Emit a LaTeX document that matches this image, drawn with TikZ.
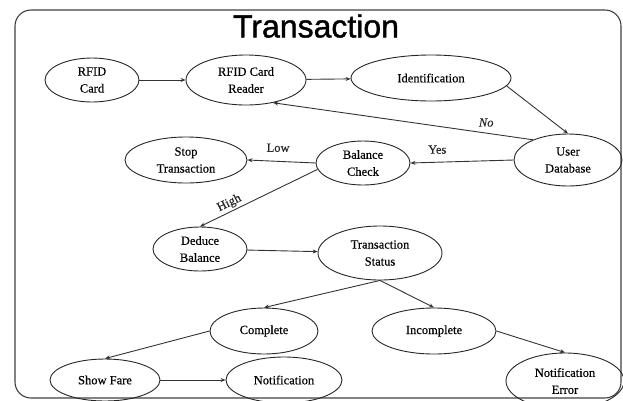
\documentclass[tikz,border=0pt]{standalone}
\usepackage{fontspec}
\setmainfont[FakeBold=0.4]{Liberation Serif}
\newfontfamily\titlefont[FakeBold=1.2]{Liberation Sans}
\usetikzlibrary{shapes.geometric,arrows.meta}
\begin{document}
\begin{tikzpicture}[x=1pt,y=-1pt,
  st/.style={ellipse,draw=black!85,line width=0.9pt,inner sep=0pt,align=center,
    font=\fontsize{12.5}{17}\selectfont},
  conn/.style={draw=black!80,line width=0.9pt,-{Stealth[length=5pt,width=4pt]}},
  lbl/.style={font=\fontsize{12.5}{15}\selectfont,text=black!85,inner sep=1pt}]
\useasboundingbox (0,0) rectangle (623,400);
\draw[black!75,line width=1.1pt,rounded corners=16pt] (15,10) rectangle (621,398);
\node[font=\titlefont\fontsize{32}{36}\selectfont] (title) at (316,26) {Transaction};
\node[st,minimum width=94pt,minimum height=44pt] (card) at (92,80) {RFID\\Card};
\node[st,minimum width=120pt,minimum height=50pt] (reader) at (246,80) {RFID Card\\Reader};
\node[st,minimum width=160pt,minimum height=46pt] (ident) at (431,78) {Identification};
\node[st,minimum width=108pt,minimum height=52pt] (udb) at (568,160) {User\\Database};
\node[st,minimum width=94pt,minimum height=44pt] (bal) at (363,163) {Balance\\Check};
\node[st,minimum width=122pt,minimum height=46pt] (stop) at (186,160) {Stop\\Transaction};
\node[st,minimum width=94pt,minimum height=44pt] (deduce) at (200,249) {Deduce\\Balance};
\node[st,minimum width=124pt,minimum height=54pt] (status) at (380,253) {Transaction\\Status};
\node[st,minimum width=108pt,minimum height=46pt] (complete) at (264,331) {Complete};
\node[st,minimum width=124pt,minimum height=46pt] (incomplete) at (434,331) {Incomplete};
\node[st,minimum width=110pt,minimum height=42pt] (fare) at (105,380) {Show Fare};
\node[st,minimum width=116pt,minimum height=46pt] (notif) at (284,380) {Notification};
\node[st,minimum width=118pt,minimum height=56pt] (noterr) at (565,381) {Notification\\Error};
\draw[conn] (card) -- (reader);
\draw[conn] (reader) -- (ident);
\draw[conn] (ident.-6) -- (udb.north);
\draw[conn] (udb.150) -- node[lbl,pos=0.18,above=5pt,font=\itshape\fontsize{12.5}{15}\selectfont] {No} (reader.-40);
\draw[conn] (udb.west) -- node[lbl,pos=0.74,above=7pt] {Yes} (bal.east);
\draw[conn] (bal.west) -- node[lbl,pos=0.55,above=8pt] {Low} (stop.east);
\draw[conn] (bal.188) -- node[lbl,pos=0.72,above=1pt,sloped] {High} (deduce.north);
\draw[conn] (deduce) -- (status);
\draw[conn] (status.south) -- (complete.north);
\draw[conn] (status.south) -- (incomplete.north);
\draw[conn] (complete.west) -- (fare.north);
\draw[conn] (fare) -- (notif);
\draw[conn] (incomplete.east) -- (noterr.north);
\end{tikzpicture}
\end{document}
